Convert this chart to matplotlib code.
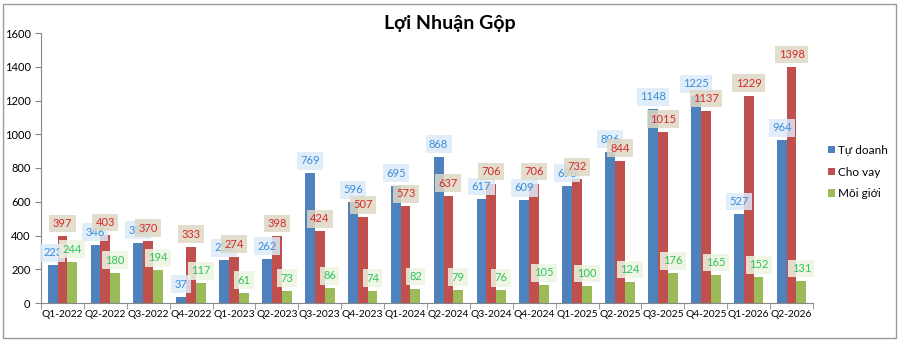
"""
Loi Nhuan Gop - grouped bar chart per quarter
"""
import matplotlib.pyplot as plt
import numpy as np
from matplotlib.patches import Rectangle

plt.rcParams['font.family'] = ['Lato', 'DejaVu Sans']

#%% Data
quarters = ['Q1-2022', 'Q2-2022', 'Q3-2022', 'Q4-2022', 'Q1-2023', 'Q2-2023',
            'Q3-2023', 'Q4-2023', 'Q1-2024', 'Q2-2024', 'Q3-2024', 'Q4-2024',
            'Q1-2025', 'Q2-2025', 'Q3-2025', 'Q4-2025', 'Q1-2026', 'Q2-2026']
tu_doanh = [223, 346, 358, 37, 252, 262, 769, 596, 695, 868, 617, 609,
            696, 896, 1148, 1225, 527, 964]
cho_vay = [397, 403, 370, 333, 274, 398, 424, 507, 573, 637, 706, 706,
           732, 844, 1015, 1137, 1229, 1398]
moi_gioi = [244, 180, 194, 117, 61, 73, 86, 74, 82, 79, 76, 105,
            100, 124, 176, 165, 152, 131]
series_names = ['Tự doanh', 'Cho vay', 'Môi giới']

#%% Style
bar_colors = ['#4F81BD', '#C0504D', '#9BBB59']
text_colors = ['#3A8EDB', '#D42A2A', '#2DC35A']
box_colors = ['#DCEAF7', '#DDD8C4', '#EEF5E2']

fig = plt.figure(figsize=(9, 3.42), dpi=100)
ax = fig.add_axes([41 / 900, 1 - 303 / 342, (813 - 41) / 900, 270 / 342])

x = np.arange(len(quarters))
w = 0.23
for i, (vals, name) in enumerate(zip([tu_doanh, cho_vay, moi_gioi], series_names)):
    pos = x + (i - 1) * w
    ax.bar(pos, vals, width=w, color=bar_colors[i], label=name, zorder=2)
    for p, v in zip(pos, vals):
        ax.annotate(str(v), (p, v), xytext=(0, 9), textcoords='offset points',
                    ha='center', va='center', fontsize=8, color=text_colors[i],
                    zorder=4,
                    bbox=dict(boxstyle='square,pad=0.3', fc=box_colors[i],
                              ec='none', alpha=0.85))

ax.set_xlim(-0.5, len(quarters) - 0.5)
ax.set_ylim(0, 1600)
ax.set_yticks(range(0, 1601, 200))
ax.set_xticks(x)
ax.set_xticklabels(quarters)
ax.set_xticks(np.arange(-0.5, len(quarters)), minor=True)
ax.tick_params(axis='x', which='major', length=0, labelsize=7.4, pad=5)
ax.tick_params(axis='x', which='minor', length=4, color='#888888')
ax.tick_params(axis='y', labelsize=8, length=4, color='#888888')
for s in ['top', 'right']:
    ax.spines[s].set_visible(False)
for s in ['left', 'bottom']:
    ax.spines[s].set_color('#888888')

fig.text(0.5, 1 - 24 / 342, 'Lợi Nhuận Gộp', ha='center', va='center',
         fontsize=14, fontweight='bold')

ax.legend(loc='center left', bbox_to_anchor=(817 / 900, 170 / 342),
          bbox_transform=fig.transFigure, frameon=False, fontsize=8.5,
          handlelength=0.6, handleheight=0.6, handletextpad=0.3, labelspacing=0.9)

fig.patches.append(Rectangle((3 / 900, 4 / 342), 893 / 900, 334 / 342,
                             transform=fig.transFigure, fill=False,
                             ec='#999999', lw=1))

fig.savefig('out.png', dpi=100)
